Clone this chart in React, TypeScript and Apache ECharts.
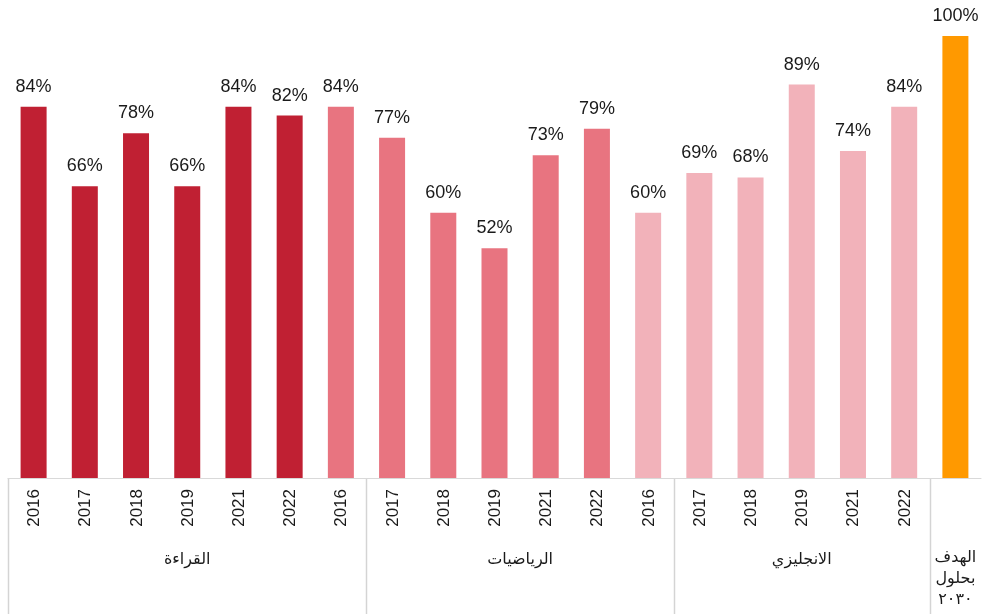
import React, { useEffect, useRef } from 'react';
import * as echarts from 'echarts';

const yearLabels = [
  '2016', '2017', '2018', '2019', '2021', '2022',
  '2016', '2017', '2018', '2019', '2021', '2022',
  '2016', '2017', '2018', '2019', '2021', '2022',
  '',
];
const values = [
  84, 66, 78, 66, 84, 82,
  84, 77, 60, 52, 73, 79,
  60, 69, 68, 89, 74, 84,
  100,
];
const subjectOfBar = [0, 0, 0, 0, 0, 0, 1, 1, 1, 1, 1, 1, 2, 2, 2, 2, 2, 2, 3];
const subjectColors = ['#C02033', '#E87480', '#F2B2BA', '#FF9900'];
const groupLabels = ['القراءة', 'الرياضيات', 'الانجليزي', 'الهدف\nبحلول\n٢٠٣٠'];
const groupSpans = [7, 6, 5, 1];

export default function App() {
  const ref = useRef<HTMLDivElement>(null);
  useEffect(() => {
    const chart = echarts.init(ref.current!, null, { renderer: 'svg' });
    chart.setOption({
      animation: false,
      grid: { left: 8, right: 1, top: 36, bottom: 136 },
      xAxis: {
        type: 'category',
        data: yearLabels.map((y, i) => ({ value: String(i), label: y })),
        axisLine: { show: true, lineStyle: { color: '#d9d9d9', width: 1 } },
        axisTick: { show: false },
        axisLabel: {
          rotate: 90,
          interval: 0,
          margin: 11,
          fontSize: 17,
          fontFamily: 'Liberation Sans, Arial, sans-serif',
          color: '#1a1a1a',
          formatter: (_v: string, i: number) => yearLabels[i],
        },
      },
      yAxis: { type: 'value', min: 0, max: 100, show: false, splitLine: { show: false } },
      series: [
        {
          type: 'bar',
          barWidth: 26,
          data: values.map((v, i) => ({
            value: v,
            itemStyle: { color: subjectColors[subjectOfBar[i]] },
          })),
          label: {
            show: true,
            position: 'top',
            distance: 12,
            fontSize: 18,
            fontFamily: 'Liberation Sans, Arial, sans-serif',
            color: '#1a1a1a',
            formatter: (p: any) => p.value + '%',
          },
        },
      ],
    });

    const cx = (i: number) => chart.convertToPixel({ xAxisIndex: 0 }, i) as number;
    const w = cx(1) - cx(0);
    const axisY = chart.convertToPixel({ yAxisIndex: 0 }, 0) as number;
    const bottom = 614;
    const graphics: any[] = [];
    let start = 0;
    const boundaries: number[] = [cx(0) - w / 2];
    groupSpans.forEach((span, gi) => {
      const end = start + span;
      const left = cx(start) - w / 2;
      const right = cx(end - 1) + w / 2;
      boundaries.push(right);
      const isLast = gi === groupSpans.length - 1;
      graphics.push({
        type: 'text',
        x: (left + right) / 2,
        y: isLast ? axisY + 68 : axisY + 80,
        style: {
          text: groupLabels[gi],
          fontSize: 16,
          lineHeight: 21,
          fontFamily: 'DejaVu Sans, sans-serif',
          fill: '#1a1a1a',
          align: 'center',
          verticalAlign: isLast ? 'top' : 'middle',
        },
      });
      start = end;
    });
    boundaries.slice(0, -1).forEach((bx) => {
      graphics.push({
        type: 'line',
        shape: { x1: Math.round(bx) + 0.5, y1: axisY, x2: Math.round(bx) + 0.5, y2: bottom },
        style: { stroke: '#d4d4d4', lineWidth: 1.5 },
      });
    });
    chart.setOption({ graphic: graphics });
    return () => chart.dispose();
  }, []);
  return <div ref={ref} style={{ position: 'fixed', left: 0, top: 0, width: 982, height: 614 }} />;
}
